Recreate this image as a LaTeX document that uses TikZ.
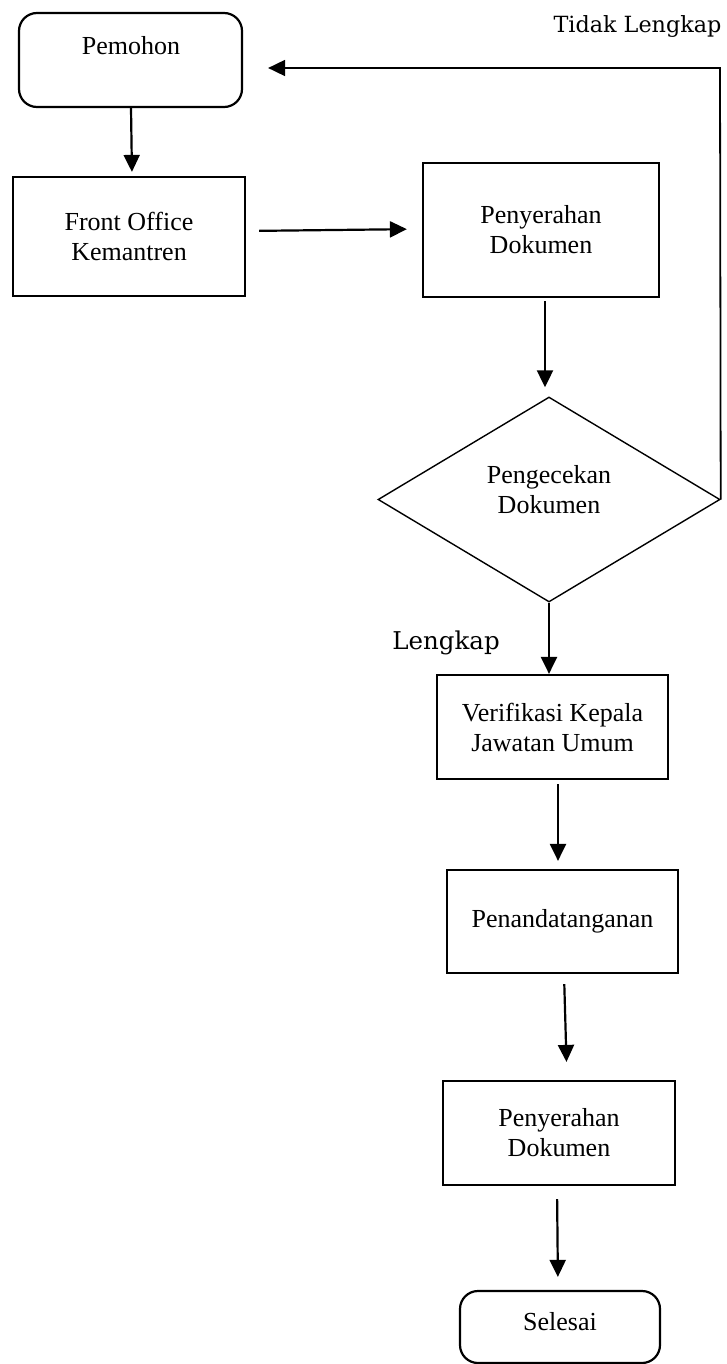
\documentclass[tikz,border=0pt]{standalone}
\usepackage{fontspec}
\setmainfont{Liberation Serif}
\newfontfamily\lblfont{DejaVu Serif}
\usetikzlibrary{arrows.meta,shapes.geometric}
\begin{document}
\begin{tikzpicture}[x=1pt,y=-1pt,
  box/.style={draw, line width=2.2pt, inner sep=0pt, align=center,
    font=\fontsize{26}{30}\selectfont},
  rbox/.style={box, rounded corners=18pt},
  txt/.style={inner sep=0pt, align=center, font=\fontsize{26}{30}\selectfont},
  dec/.style={draw, diamond, line width=1.4pt, inner sep=0pt, align=center,
    font=\fontsize{26}{30}\selectfont},
  arr/.style={line width=2.2pt, -{Triangle[length=17pt,width=16pt]}},
  lbl/.style={inner sep=0pt, font=\lblfont}
]
\useasboundingbox (0,0) rectangle (727,1364);

% nodes
\node[rbox, minimum width=223pt, minimum height=94pt] (pem) at (130.5,60) {};
\node[txt] (pemt) at (131,46) {Pemohon};
\node[box, minimum width=232pt, minimum height=119pt] (fo) at (129,236.5) {Front Office\\Kemantren};
\node[box, minimum width=236pt, minimum height=134pt] (pen1) at (541,230) {Penyerahan\\Dokumen};
\node[dec, minimum width=342pt, minimum height=205pt] (dia) at (549,499.5) {Pengecekan\\Dokumen\\[-10pt]};
\node[box, minimum width=231pt, minimum height=104pt] (ver) at (552.5,727) {Verifikasi Kepala\\Jawatan Umum};
\node[box, minimum width=231pt, minimum height=103pt] (pen) at (562.5,921.5) {Penandatanganan};
\node[box, minimum width=232pt, minimum height=104pt] (pen2) at (559,1133) {Penyerahan\\Dokumen};
\node[rbox, minimum width=200pt, minimum height=72pt] (sel) at (560,1327) {};
\node[txt] (selt) at (560,1322) {Selesai};

% labels
\node[lbl, font=\lblfont\fontsize{22.3}{25}\selectfont] (tl) at (637.5,27) {Tidak Lengkap};
\node[lbl, font=\lblfont\fontsize{24.5}{28}\selectfont] (lk) at (446,643) {Lengkap};

% connectors
\draw[arr, shorten >=4pt] ([xshift=0.5pt]pem.south) -- ([xshift=1.5pt]pem.south |- fo.north);
\draw[arr, shorten <=13pt, shorten >=15pt] ([yshift=5.5pt]fo.east) -- ([yshift=1pt]pen1.west);
\draw[arr, shorten <=3pt, shorten >=9pt] ([xshift=4pt]pen1.south) -- ([xshift=-4pt]dia.north);
\draw[arr] (dia.south) -- (dia.south |- ver.north);
\draw[arr, shorten <=4pt, shorten >=8pt] ([xshift=5.5pt]ver.south) -- ([xshift=-4.5pt]pen.north);
\draw[arr, shorten <=10pt, shorten >=18pt] ([xshift=1.5pt]pen.south) -- ([xshift=8pt]pen2.north);
\draw[arr, shorten <=13pt, shorten >=13pt] ([xshift=-2pt]pen2.south) -- ([xshift=-2pt]sel.north);
\coordinate (loop) at (720,68);
\draw[arr, line width=1.8pt, shorten >=25pt] (dia.east) -- (loop) -- ([yshift=-8pt]pem.east);
\end{tikzpicture}
\end{document}
